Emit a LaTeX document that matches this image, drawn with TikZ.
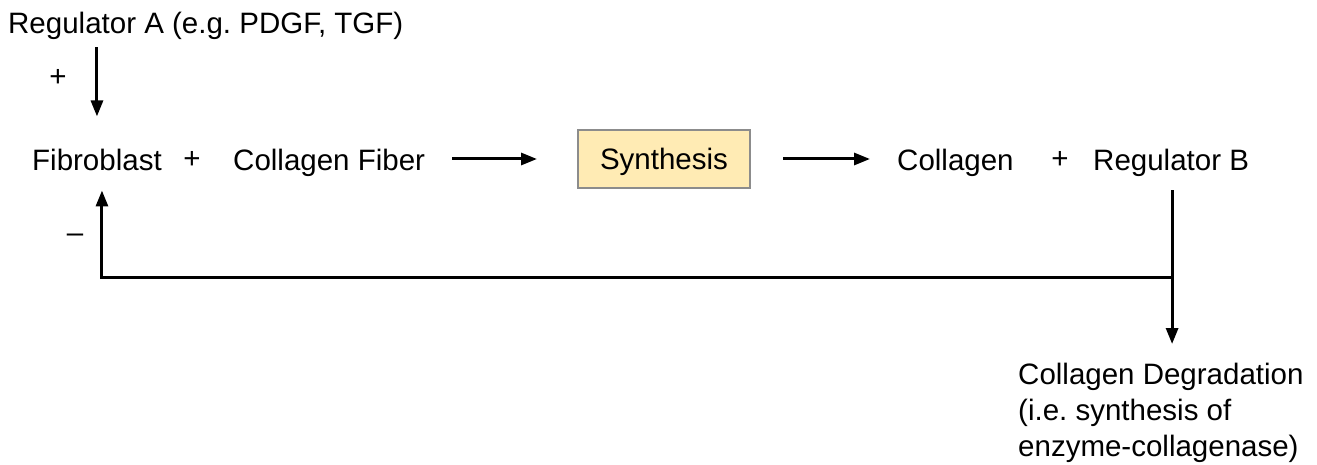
\documentclass[tikz,border=0pt]{standalone}
\usepackage{fontspec}
\setmainfont{Liberation Sans}
\usetikzlibrary{arrows.meta}
\definecolor{boxfill}{HTML}{FFEBB4}
\definecolor{boxline}{HTML}{8C8C8C}
\frenchspacing
\begin{document}
\begin{tikzpicture}[x=1pt,y=-1pt,
  lbl/.style={font=\fontsize{29.5}{36}\selectfont, inner sep=0pt, anchor=base west},
  sign/.style={font=\fontsize{29.5}{36}\selectfont, inner sep=0pt, anchor=center},
  conn/.style={line width=3pt, -{Triangle[length=16pt,width=12pt]}},
  plain/.style={line width=3pt},
  procbox/.style={draw=boxline, line width=2pt, fill=boxfill, minimum width=172pt, minimum height=58pt, inner sep=0pt, text height=21pt, text depth=0pt, font=\fontsize{29.5}{36}\selectfont}]
\useasboundingbox (0,0) rectangle (1317,465);
% texts
\node[lbl] (regA) at (8,34) {Regulator A (e.g. PDGF, TGF)};
\node[sign] (plusA) at (58,78) {+};
\node[lbl] (fib) at (32,171) {Fibroblast};
\node[sign] (plus1) at (192,160) {+};
\node[lbl] (fiber) at (233,171) {Collagen Fiber};
\node[procbox] (synth) at (664,159) {Synthesis};
\node[lbl] (coll) at (897,171) {Collagen};
\node[sign] (plus2) at (1060,160) {+};
\node[lbl] (regB) at (1093,171) {Regulator B};
\node[sign] (minus) at (75,238) {–};
\node[lbl, anchor=north west, align=left] (deg) at (1018,363) {Collagen Degradation\\(i.e. synthesis of\\enzyme-collagenase)};
% helper coordinates
\coordinate (fa) at ([xshift=0pt]fib.north);
\coordinate (fs) at ([xshift=5pt]fib.south);
\coordinate (rb) at ([xshift=1pt]regB.south);
\coordinate (j) at (rb |- 0,277);
% connectors
\draw[conn, shorten <=7pt, shorten >=33pt] (regA.south -| fa) -- (fa);
\draw[conn, shorten <=27pt, shorten >=40pt] (fiber.east |- synth.west) -- (synth.west);
\draw[conn, shorten <=32pt, shorten >=27pt] (synth.east) -- (coll.west |- synth.east);
\draw[plain, shorten <=13pt] (rb) -- (j);
\draw[conn, shorten >=19pt] (j) -- (j |- deg.north);
\draw[conn, shorten >=19pt, line join=miter] (j) -- (fs |- j) -- (fs);
\end{tikzpicture}
\end{document}
